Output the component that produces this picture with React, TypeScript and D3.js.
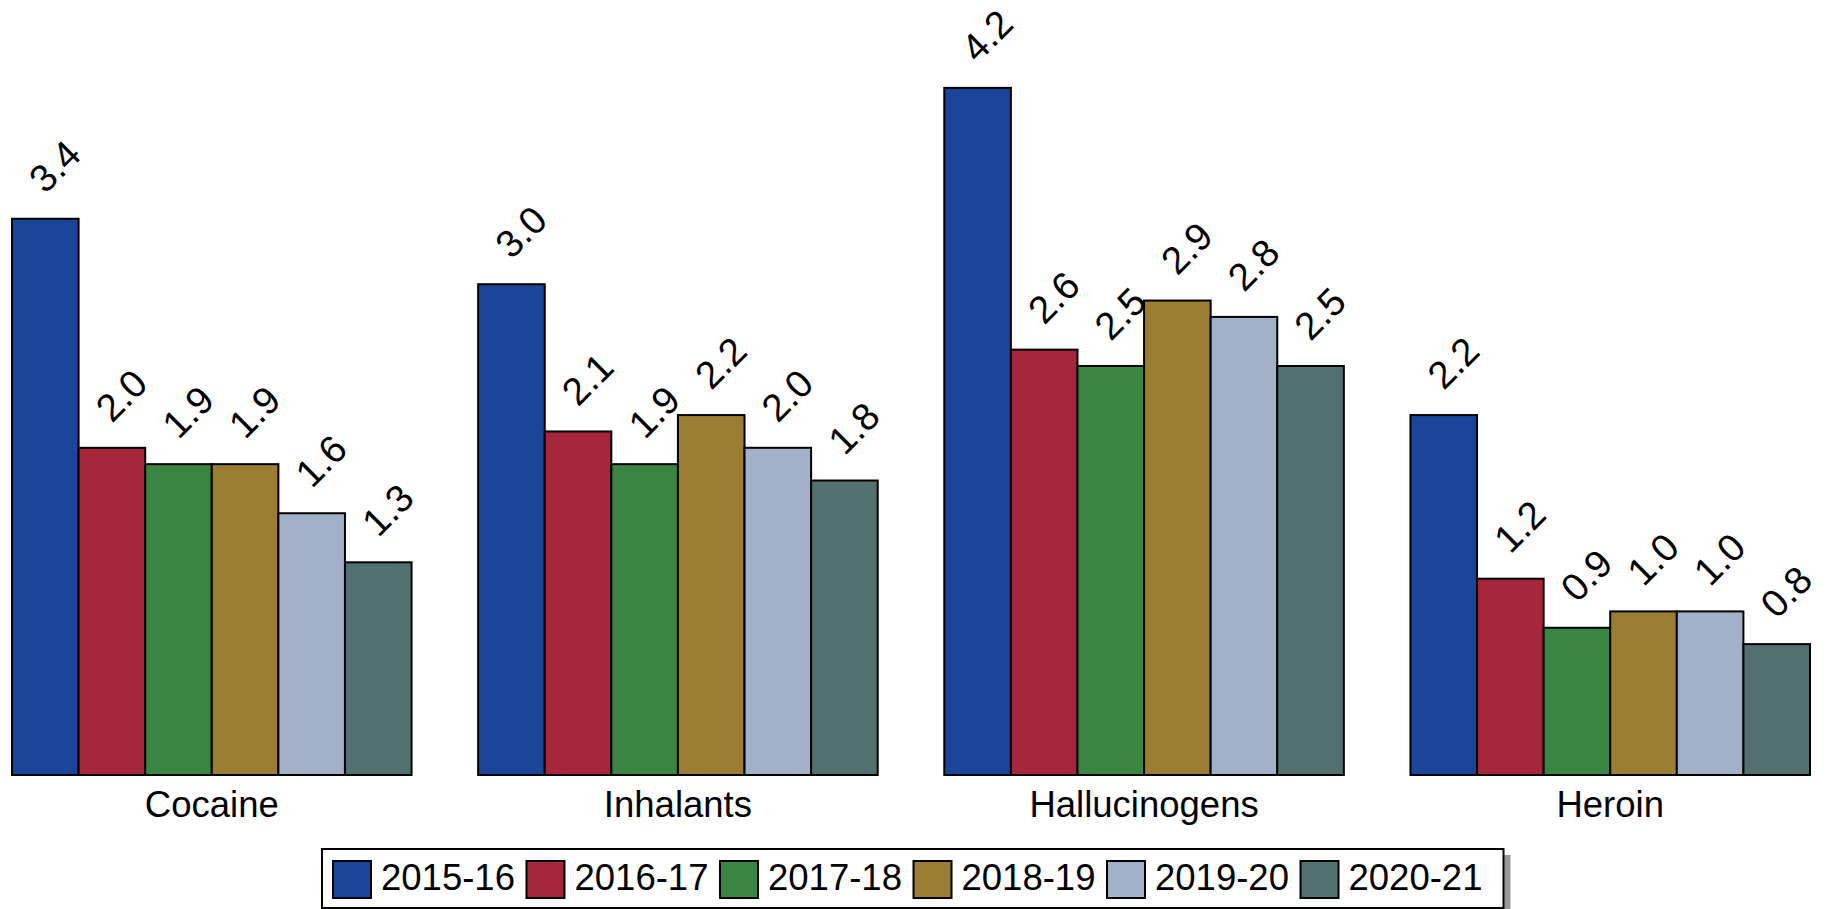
import React from 'react';
import * as d3 from 'd3';

const drugs = ['Cocaine', 'Inhalants', 'Hallucinogens', 'Heroin'];
const years = ['2015-16', '2016-17', '2017-18', '2018-19', '2019-20', '2020-21'];
const colors = ['#1a4599', '#a6263b', '#3a8542', '#9b7d34', '#a2b0c8', '#52706f'];

// one array per school year, in the order of drugs
const y2015 = [3.4, 3.0, 4.2, 2.2];
const y2016 = [2.0, 2.1, 2.6, 1.2];
const y2017 = [1.9, 1.9, 2.5, 0.9];
const y2018 = [1.9, 2.2, 2.9, 1.0];
const y2019 = [1.6, 2.0, 2.8, 1.0];
const y2020 = [1.3, 1.8, 2.5, 0.8];
const series = [y2015, y2016, y2017, y2018, y2019, y2020];

const W = 1828;
const H = 909;
const FONT = 'Arial, "Liberation Sans", Helvetica, sans-serif';

const App: React.FC = () => {
  const x0 = d3.scaleBand<string>().domain(drugs).range([12, 1810]).paddingInner(1 / 7).paddingOuter(0);
  const x1 = d3.scaleBand<string>().domain(years).range([0, x0.bandwidth()]).padding(0);
  const y = d3.scaleLinear().domain([0, 4.4]).range([775, 775 - 4.4 * 163.6]);

  // legend layout
  const sw = 38;
  const itemW = 193.5;
  const legX = 333;
  const legendLeft = legX - 11;
  const legendRight = legX + itemW * 5 + sw + 10 + 134 + 21;

  return (
    <svg width={W} height={H} style={{ display: 'block', position: 'absolute', left: 0, top: 0, background: '#fff' }}
      fontFamily={FONT}>
      <rect x={0} y={0} width={W} height={H} fill="#fff" />
      {drugs.map((d, gi) => (
        <g key={d} transform={`translate(${x0(d)},0)`}>
          {years.map((yr, si) => {
            const v = series[si][gi];
            const bx = x1(yr)!;
            const top = y(v);
            return (
              <g key={yr}>
                <rect x={bx} y={top} width={x1.bandwidth()} height={y(0) - top}
                  fill={colors[si]} stroke="#000" strokeWidth={2} />
                <text transform={`translate(${bx + x1.bandwidth() / 2},${top - 24}) rotate(-45)`}
                  fontSize={38.5} fill="#000">{v.toFixed(1)}</text>
              </g>
            );
          })}
          <text x={x0.bandwidth() / 2} y={817} textAnchor="middle" fontSize={36.5} fill="#000">{d}</text>
        </g>
      ))}
      {/* legend */}
      <rect x={legendLeft + 7} y={855} width={legendRight - legendLeft} height={60} fill="#999" />
      <rect x={legendLeft} y={849} width={legendRight - legendLeft} height={59} fill="#fff" stroke="#000" strokeWidth={2} />
      {years.map((yr, i) => {
        const lx = legX + i * itemW;
        return (
          <g key={yr}>
            <rect x={lx} y={861} width={sw} height={37} fill={colors[i]} stroke="#000" strokeWidth={2} />
            <text x={lx + sw + 10} y={890} fontSize={36.5} fill="#000">{yr}</text>
          </g>
        );
      })}
    </svg>
  );
};

export default App;
